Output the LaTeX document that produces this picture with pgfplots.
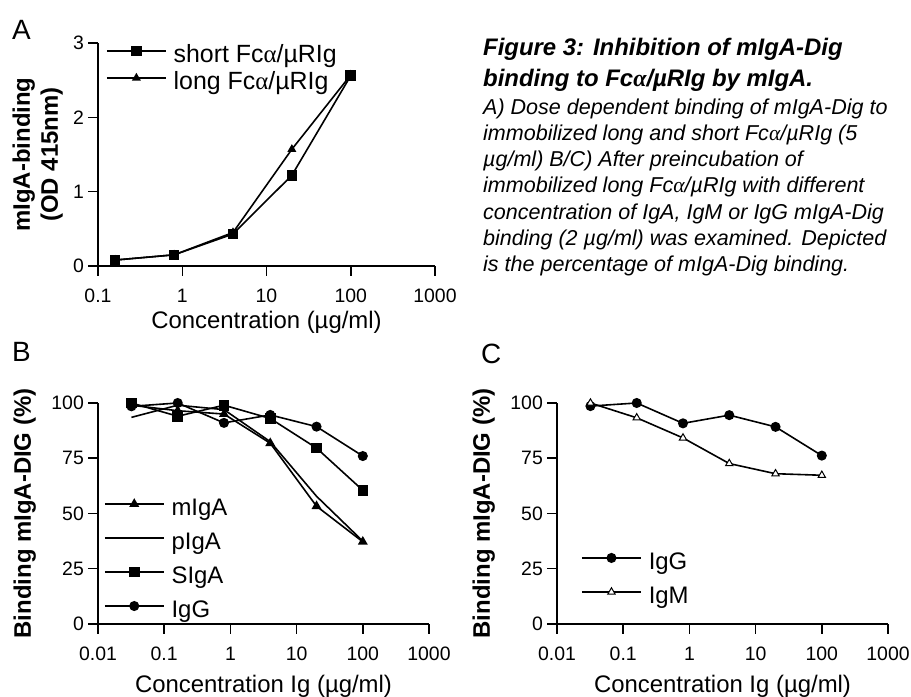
\documentclass[border=0pt]{standalone}
\usepackage{fontspec}
\setmainfont{Liberation Sans}
\newfontfamily\grk{Liberation Serif}
\usepackage{pgfplots}
\pgfplotsset{compat=1.18}

\newcommand{\fca}{Fc{\grk α}/µRIg}

\pgfplotsset{
  legend image code/.code={\draw[mark repeat=2,mark phase=2,#1] plot coordinates {(0bp,5.5bp) (29.5bp,5.5bp) (59bp,5.5bp)};},
}
\pgfplotsset{
  panelbase/.style={
    scale only axis,
    axis lines*=left,
    axis line style={line width=1.5bp},
    tick align=outside,
    major tick length=10bp,
    every tick/.style={line width=1.5bp, black},
    xminorticks=false, yminorticks=false,
    clip=false,
    /pgf/number format/assume math mode=true,
    ticklabel style={font=\fontsize{19.5}{20}\selectfont, inner sep=0pt},
    xticklabel style={anchor=north, yshift=-13bp},
    yticklabel style={anchor=east, xshift=-4bp},
    xlabel style={font=\fontsize{24}{28}\selectfont, inner sep=0pt, anchor=base},
    ylabel style={font=\bfseries\fontsize{24}{28}\selectfont, inner sep=0pt, anchor=south, align=center},
    every axis plot/.append style={line width=1.6bp, black, mark options={solid}},
    legend style={draw=none, fill=none, inner sep=0pt, outer sep=0pt, column sep=7bp,
      nodes={font=\fontsize{24}{28}\selectfont, text height=17.5bp, text depth=5.5bp, inner sep=0pt}},
    legend cell align=left,
  },
  panelbc/.style={panelbase,
    width=331bp, height=221bp,
    xmin=0.01, xmax=1000, ymin=0, ymax=100,
    xtick={0.01,0.1,1,10,100,1000},
    xticklabels={0.01,0.1,1,10,100,1000},
    ytick={0,25,50,75,100},
    xlabel={Concentration Ig (µg/ml)},
    ylabel={Binding mIgA-DIG (\%)},
    xlabel style={at={(axis description cs:0.5,-0.312)}},
    ylabel style={at={(axis description cs:-0.187,0.5)}},
  }
}

\begin{document}
\begin{tikzpicture}[x=1bp,y=1bp]
\useasboundingbox (0,0) rectangle (911,697);

% ---------------- Panel A ----------------
\begin{axis}[panelbase, xmode=log,
  at={(98bp,431bp)}, anchor=south west,
  width=337bp, height=223bp,
  xmin=0.1, xmax=1000, ymin=0, ymax=3,
  xtick={0.1,1,10,100,1000},
  xticklabels={0.1,1,10,100,1000},
  ytick={0,1,2,3},
  xlabel={Concentration (µg/ml)},
  ylabel={mIgA-binding\\(OD 415nm)},
  xlabel style={at={(axis description cs:0.5,-0.2825)}},
  ylabel style={at={(axis description cs:-0.104,0.5)}},
  legend style={at={(axis description cs:0.024,0.991)}, anchor=north west, row sep=4bp,
    nodes={font=\fontsize{25}{28}\selectfont}},
]
\addplot[mark=square*, mark size=4.5bp] coordinates {(0.16,0.08) (0.8,0.15) (4,0.43) (20,1.22) (100,2.56)};
\addlegendentry{short \fca}
\addplot[mark=triangle*, mark size=3.6bp] coordinates {(0.16,0.08) (0.8,0.15) (4,0.45) (20,1.57) (100,2.57)};
\addlegendentry{long \fca}
\end{axis}

% ---------------- Panel B ----------------
\begin{axis}[panelbc, xmode=log,
  at={(98bp,73bp)}, anchor=south west,
  legend style={at={(axis description cs:0.018,0.570)}, anchor=north west, row sep=11bp},
]
\addplot[mark=triangle*, mark size=4.2bp] coordinates {(0.032,99) (0.16,96.5) (0.8,95) (4,81.8) (20,53.3) (100,37.2)};
\addlegendentry{mIgA}
\addplot[no marks] coordinates {(0.032,93.5) (0.16,99) (0.8,97) (4,82.5) (20,57.8) (100,37.5)};
\addlegendentry{pIgA}
\addplot[mark=square*, mark size=4.5bp] coordinates {(0.032,100) (0.16,94) (0.8,99) (4,93) (20,79.6) (100,60.5)};
\addlegendentry{SIgA}
\addplot[mark=*, mark size=4.2bp] coordinates {(0.032,98.5) (0.16,100) (0.8,91) (4,94.6) (20,89.3) (100,76)};
\addlegendentry{IgG}
\end{axis}

% ---------------- Panel C ----------------
\begin{axis}[panelbc, xmode=log,
  at={(557bp,73bp)}, anchor=south west,
  legend style={at={(axis description cs:0.073,0.326)}, anchor=north west, row sep=11bp},
]
\addplot[mark=*, mark size=4.2bp] coordinates {(0.032,98.6) (0.16,100) (0.8,90.8) (4,94.5) (20,89.2) (100,76.2)};
\addlegendentry{IgG}
\addplot[mark=triangle*, mark size=4.2bp, mark options={fill=white, line width=1bp}] coordinates {(0.032,100) (0.16,93.3) (0.8,84.2) (4,72.6) (20,68) (100,67.3)};
\addlegendentry{IgM}
\end{axis}

% ---------------- Panel letters ----------------
\node[anchor=west, inner sep=0pt, font=\fontsize{28}{30}\selectfont] at (12,667) {A};
\node[anchor=west, inner sep=0pt, font=\fontsize{28}{30}\selectfont] at (12,345) {B};
\node[anchor=west, inner sep=0pt, font=\fontsize{28}{30}\selectfont] at (481,343) {C};

% ---------------- Caption ----------------
\begin{scope}[every node/.style={anchor=base west, inner sep=0pt}]
\node[font=\bfseries\itshape\fontsize{24}{30}\selectfont] at (483,641.4) {Figure 3: Inhibition of mIgA-Dig};
\node[font=\bfseries\itshape\fontsize{24}{30}\selectfont] at (483,610.4) {binding to \fca{} by mIgA.};
\node[font=\itshape\fontsize{21.6}{26}\selectfont] at (483,582.6) {A) Dose dependent binding of mIgA-Dig to};
\node[font=\itshape\fontsize{21.6}{26}\selectfont] at (483,556.4) {immobilized long and short \fca{} (5};
\node[font=\itshape\fontsize{21.6}{26}\selectfont] at (483,530.2) {µg/ml) B/C) After preincubation of};
\node[font=\itshape\fontsize{21.6}{26}\selectfont] at (483,504.0) {immobilized long \fca{} with different};
\node[font=\itshape\fontsize{21.6}{26}\selectfont] at (483,477.8) {concentration of IgA, IgM or IgG mIgA-Dig};
\node[font=\itshape\fontsize{21.6}{26}\selectfont] at (483,451.6) {binding (2 µg/ml) was examined. Depicted};
\node[font=\itshape\fontsize{21.6}{26}\selectfont] at (483,425.4) {is the percentage of mIgA-Dig binding.};
\end{scope}
\end{tikzpicture}
\end{document}
